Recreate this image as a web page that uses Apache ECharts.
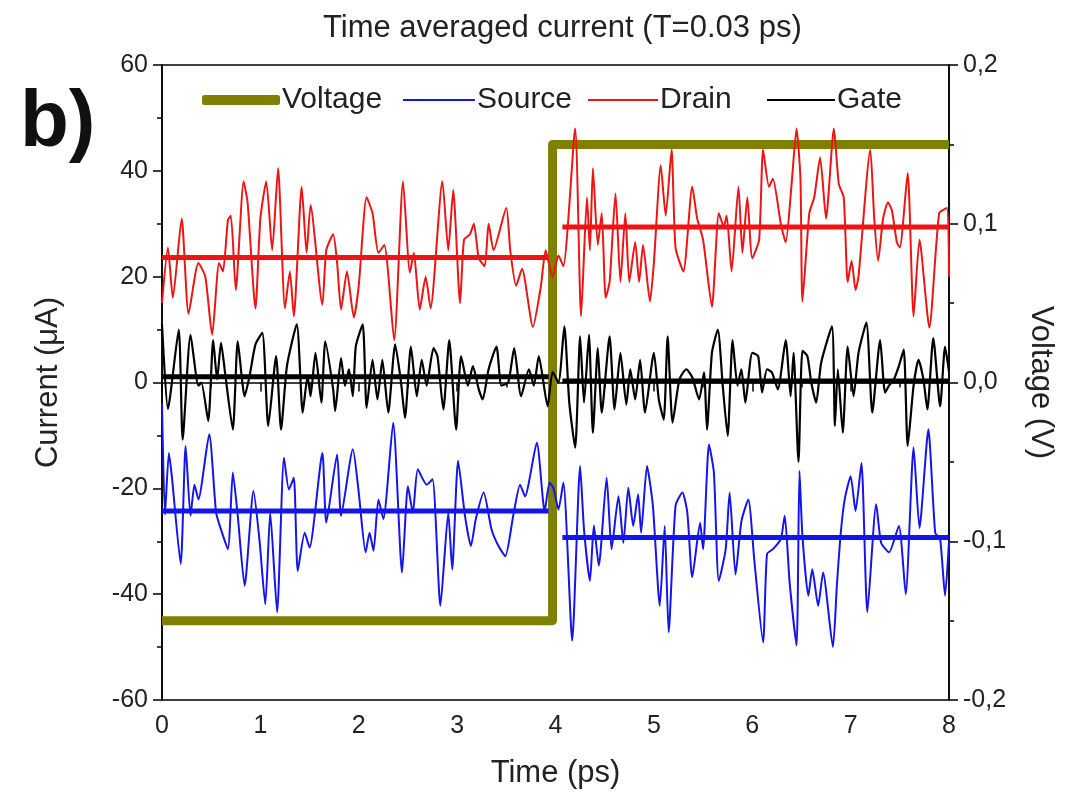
<!DOCTYPE html>
<html>
<head>
<meta charset="utf-8">
<script src="https://cdn.jsdelivr.net/npm/echarts@6/dist/echarts.min.js"></script>
<style>
  html, body { margin: 0; padding: 0; background: #fff; }
  #chart { width: 1079px; height: 803px; }
</style>
</head>
<body>
<div id="chart"></div>
<script>
// values: [time (ps), current (uA)]
const drainData = [
  [0,15],[0.06,25.5],[0.11,16],[0.2,31],[0.27,13],[0.37,22.6],[0.44,20],[0.51,9],[0.58,22.6],[0.62,21],
  [0.67,30.7],[0.7,31.5],[0.75,17.5],[0.83,38],[0.87,34],[0.95,14],[1.0,31],[1.06,38],[1.12,25],[1.18,40.5],
  [1.25,14],[1.3,21],[1.34,12.5],[1.42,37],[1.47,24.5],[1.51,33.5],[1.63,14.7],[1.67,25],[1.74,28],[1.78,22.6],
  [1.82,13.8],[1.88,21],[1.95,12.3],[2.0,18.3],[2.08,35],[2.14,32],[2.2,24.5],[2.26,26],[2.36,8],[2.45,38],
  [2.52,20.8],[2.56,24.5],[2.62,13.8],[2.68,20],[2.73,14],[2.85,38],[2.91,25],[2.96,36.4],[3.03,15],[3.07,27],
  [3.13,28],[3.17,30],[3.22,23.5],[3.28,22],[3.32,30],[3.37,25],[3.5,33],[3.54,25],[3.6,18.3],[3.66,21.5],
  [3.77,10.5],[3.85,18],[3.9,25],[3.97,20],
  [4.03,24],[4.08,22],[4.2,48],[4.26,12.5],[4.32,35],[4.35,25],[4.38,40.5],[4.43,26],[4.47,32],[4.51,16],
  [4.55,19],[4.61,35.7],[4.66,19],[4.71,32],[4.75,19],[4.81,26.5],[4.85,19],[4.89,26],[4.96,15.3],[5.0,22.6],
  [5.07,41],[5.12,31.5],[5.18,44],[5.22,25.5],[5.3,21],[5.39,37],[5.44,31],[5.5,27],[5.59,14.3],[5.66,32],
  [5.71,29.5],[5.74,31.5],[5.79,21],[5.86,37],[5.9,24.5],[5.95,35],[6.0,23.5],[6.07,27],[6.11,44],[6.17,37],
  [6.21,38.5],[6.29,30],[6.34,26.5],[6.4,37.5],[6.45,48],[6.49,38.5],[6.51,15.3],[6.58,32],[6.63,35],[6.69,42.5],
  [6.75,31],[6.83,48],[6.88,37.5],[6.93,35],[6.97,19],[7.01,23],[7.05,17.5],[7.08,20],[7.2,44],[7.24,31],
  [7.28,23],[7.33,31],[7.38,34],[7.42,32.5],[7.47,26.5],[7.5,25.5],[7.58,39.6],[7.64,12.5],[7.7,27],[7.8,10.4],
  [7.9,32],[7.98,33],[8,20]
];

const gateData = [
  [0,11],[0.06,-5],[0.17,10],[0.21,-10.8],[0.29,9],[0.37,-0.6],[0.4,0],[0.47,-7.3],[0.52,8],[0.56,0.6],
  [0.6,7.5],[0.64,2],[0.72,-8.9],[0.77,7.8],[0.84,-2.6],[0.89,1.2],[0.95,7.2],[1.02,9.4],[1.08,-8.2],[1.16,5],
  [1.21,-8.9],[1.27,3.1],[1.37,11],[1.43,-5.7],[1.48,1.2],[1.51,-2.6],[1.56,5.6],[1.62,-3.8],[1.66,7.8],[1.74,-1.3],
  [1.76,-5.4],[1.82,4.6],[1.86,-0.6],[1.9,2.5],[1.94,-2.6],[1.97,6.8],[2.04,11],[2.08,-4.8],[2.14,4.3],[2.19,-3.2],
  [2.24,4.3],[2.3,-5.7],[2.37,7.2],[2.43,0],[2.47,-6.7],[2.53,6.8],[2.59,-2.6],[2.64,4.3],[2.69,-0.6],[2.76,6.5],
  [2.8,5],[2.86,-5.1],[2.92,8],[2.99,-8.9],[3.04,5],[3.11,-0.6],[3.16,3.1],[3.22,-1.3],[3.26,-3.2],[3.32,2.5],
  [3.4,6.8],[3.45,-0.6],[3.52,0],[3.58,6.5],[3.65,-2.6],[3.73,2.5],[3.78,-0.6],[3.83,5],[3.92,-4.5],[3.97,2],
  [4.03,0],[4.09,10.6],[4.14,-3.8],[4.2,-12.3],[4.25,8.7],[4.29,-3.8],[4.34,9],[4.38,-9.5],[4.43,6.5],[4.47,-5.7],
  [4.55,8.7],[4.6,-5.1],[4.66,5.6],[4.72,-4.2],[4.76,2.5],[4.81,-3.2],[4.86,4.3],[4.91,-5.7],[5.0,5.6],[5.05,-3.2],
  [5.1,-7],[5.14,8.7],[5.19,-7.6],[5.26,0.6],[5.33,2.5],[5.39,1],[5.46,-3.2],[5.51,1.9],[5.54,-8.9],[5.59,5.6],
  [5.65,10],[5.7,-0.6],[5.75,-10.1],[5.8,8],[5.85,-0.6],[5.89,2.5],[5.93,-3.8],[6.0,5.6],[6.06,5],[6.1,-1.9],
  [6.15,2.5],[6.2,1.9],[6.26,-1.3],[6.34,8],[6.39,-2.6],[6.42,5.6],[6.47,-15],[6.51,6],[6.56,5],[6.6,0],
  [6.65,-3.8],[6.7,3.7],[6.81,10.6],[6.84,-8.2],[6.87,2.5],[6.92,-9.5],[6.97,6.8],[7.03,-2.6],[7.08,5.6],[7.16,11.3],
  [7.22,-5.7],[7.3,8],[7.35,-1.9],[7.39,-0.6],[7.44,0.6],[7.49,3.1],[7.54,6.2],[7.58,-12],[7.64,-0.6],[7.69,4.3],
  [7.74,0.6],[7.78,-5.1],[7.84,8.4],[7.91,-4.5],[7.96,6.8],[8,2]
];

const sourceData = [
  [0,-4],[0.03,-25],[0.07,-13.3],[0.1,-17.7],[0.19,-34.3],[0.24,-12],[0.29,-25.2],[0.33,-19.3],[0.37,-22.1],[0.48,-9.8],
  [0.55,-24.6],[0.6,-27.8],[0.67,-31.5],[0.72,-17],[0.77,-25.2],[0.84,-38.4],[0.93,-20.5],[0.99,-29.6],[1.05,-41.9],[1.1,-24.6],
  [1.17,-43.4],[1.24,-14.2],[1.29,-20.2],[1.34,-18],[1.38,-35.6],[1.45,-28.4],[1.5,-31.2],[1.63,-13.3],[1.67,-26.5],[1.78,-13.6],
  [1.82,-25.2],[1.94,-12.6],[2.0,-20.8],[2.07,-32.1],[2.11,-28.4],[2.15,-31.8],[2.2,-22.1],[2.25,-25.8],[2.35,-7.6],[2.44,-35.9],
  [2.5,-19.6],[2.55,-24.6],[2.6,-16.4],[2.69,-19.3],[2.75,-18.3],[2.83,-42.2],[2.91,-24.6],[2.95,-35.3],[3.01,-14.8],[3.08,-25.2],
  [3.14,-30.9],[3.19,-25.8],[3.27,-20.8],[3.35,-27.8],[3.42,-30.9],[3.49,-32.8],[3.57,-25.2],[3.64,-19.3],[3.69,-21.5],[3.81,-11.4],
  [3.89,-24.3],[3.94,-18.9],[3.98,-20],
  [4.03,-24],[4.08,-18.9],[4.17,-48.8],[4.25,-15.8],[4.29,-27.8],[4.35,-37.5],[4.39,-27],[4.44,-34.6],[4.52,-18],[4.57,-31.5],
  [4.64,-21.5],[4.69,-30.3],[4.74,-19.9],[4.79,-27.1],[4.84,-21.1],[4.87,-28.4],[4.93,-15.8],[4.99,-23.3],[5.06,-42.2],[5.11,-27.1],
  [5.15,-47.2],[5.22,-23.3],[5.29,-20.8],[5.34,-24.6],[5.39,-36.8],[5.47,-26.5],[5.5,-31.5],[5.56,-11.7],[5.61,-17],[5.66,-37.5],
  [5.73,-31.5],[5.77,-20.8],[5.83,-36.3],[5.89,-26.2],[5.96,-22.1],[6.02,-33.4],[6.11,-49.1],[6.15,-32.4],[6.21,-31.5],[6.29,-29.6],
  [6.33,-25.2],[6.38,-37.8],[6.45,-49.7],[6.48,-16.7],[6.51,-29],[6.57,-40.3],[6.61,-35.3],[6.67,-42.2],[6.72,-35.9],[6.82,-50],
  [6.86,-38.4],[6.9,-28.4],[6.94,-22.1],[7.0,-17.7],[7.05,-24.3],[7.11,-15.2],[7.17,-43.4],[7.26,-23],[7.31,-30.3],[7.39,-32.1],
  [7.49,-27.1],[7.56,-40],[7.64,-12.3],[7.7,-27.5],[7.79,-8.9],[7.86,-28.4],[7.91,-29.6],[7.96,-40.3],[8,-30]
];

// time averaged levels (before / after the voltage step)
const drainMean = [[0,23.6],[3.93,23.6],[4,'-'],[4.07,29.4],[8,29.4]];
const gateMean = [[0,1.1],[3.93,1.1],[4,'-'],[4.07,0.3],[8,0.3]];
const sourceMean = [[0,-24.3],[3.93,-24.3],[4,'-'],[4.07,-29.3],[8,-29.3]];

// applied voltage, right axis (V)
const voltageData = [[0,-0.15],[3.97,-0.15],[3.97,0.15],[8,0.15]];

const txt = '#222';
const fontFam = '"Liberation Sans", Arial, sans-serif';

const chart = echarts.init(document.getElementById('chart'));

const legendBox = (name, left, w, h, icon) => ({
  data: [name],
  left: left,
  top: 80,
  icon: icon,
  itemWidth: w,
  itemHeight: h,
  itemGap: 0,
  textStyle: { fontSize: 30, color: txt, fontFamily: fontFam, padding: [0,0,0,-3] }
});

const option = {
  animation: false,
  backgroundColor: '#fff',
  title: {
    text: 'Time averaged current (T=0.03 ps)',
    left: 318,
    top: 8,
    textStyle: { fontSize: 31, fontWeight: 'normal', color: txt, fontFamily: fontFam }
  },
  graphic: [{
    type: 'text',
    left: 20,
    top: 84,
    style: { text: 'b)', font: 'bold 80px "Liberation Sans", Arial, sans-serif', fill: '#111' }
  }],
  legend: [
    legendBox('Voltage', 197, 78, 10, 'roundRect'),
    legendBox('Source', 398, 72, 2, 'rect'),
    legendBox('Drain', 583, 70, 2, 'rect'),
    legendBox('Gate', 762, 68, 2, 'rect')
  ],
  grid: {
    left: 162, right: 130, top: 65, bottom: 103,
    show: true, borderColor: '#000', borderWidth: 1.5, backgroundColor: 'transparent'
  },
  xAxis: {
    type: 'value',
    min: 0, max: 8, interval: 1,
    name: 'Time (ps)',
    nameLocation: 'middle',
    nameGap: 58,
    nameTextStyle: { fontSize: 31, color: txt, fontFamily: fontFam },
    axisLine: { lineStyle: { color: '#000', width: 1.5 } },
    axisTick: { length: 9, lineStyle: { color: '#000', width: 1.5 } },
    minorTick: { show: true, splitNumber: 2, length: 5, lineStyle: { color: '#000', width: 1.5 } },
    axisLabel: { fontSize: 25, color: txt, fontFamily: fontFam, margin: 14 },
    splitLine: { show: false }
  },
  yAxis: [{
    type: 'value',
    min: -60, max: 60, interval: 20,
    name: 'Current (μA)',
    nameLocation: 'middle',
    nameGap: 98,
    nameTextStyle: { fontSize: 31, color: txt, fontFamily: fontFam },
    axisLine: { show: true, lineStyle: { color: '#000', width: 1.5 } },
    axisTick: { show: true, length: 9, lineStyle: { color: '#000', width: 1.5 } },
    minorTick: { show: true, splitNumber: 2, length: 5, lineStyle: { color: '#000', width: 1.5 } },
    axisLabel: { fontSize: 25, color: txt, fontFamily: fontFam, margin: 14 },
    splitLine: { show: false }
  }, {
    type: 'value',
    position: 'right',
    min: -0.2, max: 0.2, interval: 0.1,
    name: 'Voltage (V)',
    nameLocation: 'middle',
    nameGap: 76,
    nameRotate: -90,
    nameTextStyle: { fontSize: 31, color: txt, fontFamily: fontFam },
    axisLine: { show: true, lineStyle: { color: '#000', width: 1.5 } },
    axisTick: { show: true, length: 9, lineStyle: { color: '#000', width: 1.5 } },
    minorTick: { show: true, splitNumber: 2, length: 5, lineStyle: { color: '#000', width: 1.5 } },
    axisLabel: {
      fontSize: 25, color: txt, fontFamily: fontFam, margin: 14,
      formatter: v => (Math.abs(v) < 1e-9 ? 0 : v).toFixed(1).replace('.', ',')
    },
    splitLine: { show: false }
  }],
  series: [
    {
      name: 'Voltage', type: 'line', yAxisIndex: 1, data: voltageData,
      symbol: 'none', color: '#808000',
      lineStyle: { width: 9, color: '#808000', join: 'round', cap: 'butt' }, z: 1
    },
    {
      name: 'Source', type: 'line', data: sourceData, symbol: 'none', smooth: 0.2,
      color: '#1414ee', lineStyle: { width: 2, color: '#1414ee' }, z: 2
    },
    {
      name: 'Drain', type: 'line', data: drainData, symbol: 'none', smooth: 0.2,
      color: '#ee1414', lineStyle: { width: 2, color: '#ee1414' }, z: 2
    },
    {
      name: 'Gate', type: 'line', data: gateData, symbol: 'none', smooth: 0.2,
      color: '#000', lineStyle: { width: 2.2, color: '#000' }, z: 2
    },
    {
      name: 'Source mean', type: 'line', data: sourceMean, symbol: 'none',
      lineStyle: { width: 5, color: '#1414ee' }, z: 3
    },
    {
      name: 'Drain mean', type: 'line', data: drainMean, symbol: 'none',
      lineStyle: { width: 5, color: '#ee1414' }, z: 3
    },
    {
      name: 'Gate mean', type: 'line', data: gateMean, symbol: 'none',
      lineStyle: { width: 5, color: '#000' }, z: 3
    }
  ]
};

chart.setOption(option);
</script>
</body>
</html>
